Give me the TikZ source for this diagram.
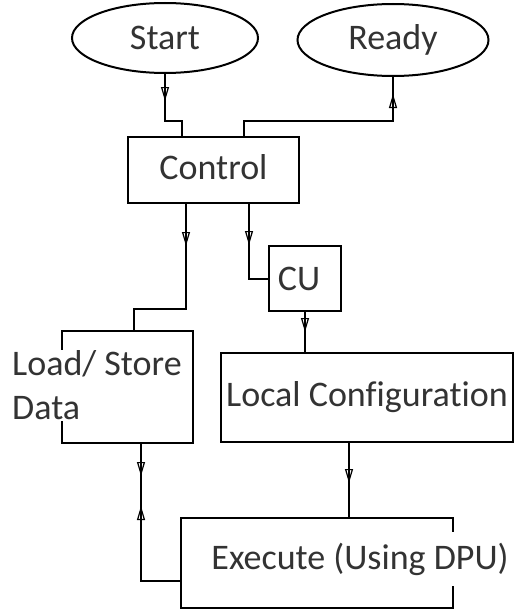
\documentclass[tikz,border=0pt]{standalone}
\usepackage{fontspec}
\setmainfont{Carlito}[Ligatures=NoCommon]
\usetikzlibrary{shapes.geometric,arrows.meta,decorations.markings}

\definecolor{ink}{HTML}{333333}

\tikzset{
    >={Triangle[open,length=14pt,width=8pt,line width=1.2pt]},
    stage/.style={draw, line width=2pt, inner sep=0pt, text=ink},
    oval/.style={stage, ellipse},
    link/.style={line width=2pt},
    tipfwd/.style={postaction={decorate,
        decoration={markings, mark=at position #1 with {\arrow{>}}}}},
    tipback/.style={postaction={decorate,
        decoration={markings, mark=at position #1 with {\arrowreversed{>}}}}},
}

\begin{document}
\begin{tikzpicture}[x=1pt, y=-1pt, font=\fontsize{36}{44}\selectfont]

    \useasboundingbox (0,0) rectangle (517,610);

    \coordinate (C1) at (165, 38);
    \coordinate (C2) at (393, 40);
    \coordinate (C3) at (213.5, 170);
    \coordinate (C4) at (305, 278.5);
    \coordinate (C5) at (127.5, 387);
    \coordinate (C6) at (367, 397.5);
    \coordinate (C7) at (317, 563);

    \node[oval, minimum width=186pt, minimum height=70pt] (start) at (C1) {Start};
    \node[oval, minimum width=191pt, minimum height=72pt] (ready) at (C2) {Ready};
    \node[stage, minimum width=171pt, minimum height=66pt] (ctrl) at (C3) {\raisebox{7pt}{Control}};
    \node[stage, minimum width=72pt, minimum height=65pt] (cu) at (C4) {\hspace{-12pt}CU};
    \node[stage, minimum width=131pt, minimum height=112pt] (ls) at (C5) {};
    \node[stage, minimum width=292pt, minimum height=89pt] (local) at (C6) {\raisebox{2pt}{Local Configuration}};
    \node[stage, minimum width=272pt, minimum height=90pt] (exec) at (C7) {};

    % texts that run over the box edges
    \node[fill=white, text=ink, align=left, anchor=west, inner xsep=2pt, inner ysep=1pt]
        (lstext) at (10, 385.5) {Load/ Store\\Data};
    \node[fill=white, text=ink, inner xsep=2pt, inner ysep=11pt]
        (exectext) at (360, 559) {Execute (Using DPU)};

    \draw [link, tipfwd=27pt]  (start.south) -- ++(0,47) -| ([xshift=-31.5pt]ctrl.north);
    \draw [link, tipback=17pt] (ready.south) -- ++(0,44) -| ([xshift=30.5pt]ctrl.north);

    \draw [link, tipfwd=42pt]  ([xshift=-27.5pt]ctrl.south) -- ++(0,105) -| ([xshift=6.5pt]ls.north);
    \draw [link, tipfwd=41pt]  ([xshift=35.5pt]ctrl.south) |- (cu.west);

    \draw [link, tipfwd=20pt]  (cu.south) -- (cu.south |- local.north);
    \draw [link, tipfwd=40pt]  ([xshift=-18pt]local.south) -- ([xshift=-18pt]local.south |- exec.north);

    \draw [link, tipfwd=32pt, tipback=62pt] ([xshift=13.5pt]ls.south) |- ([yshift=-18pt]exec.west);

\end{tikzpicture}
\end{document}
